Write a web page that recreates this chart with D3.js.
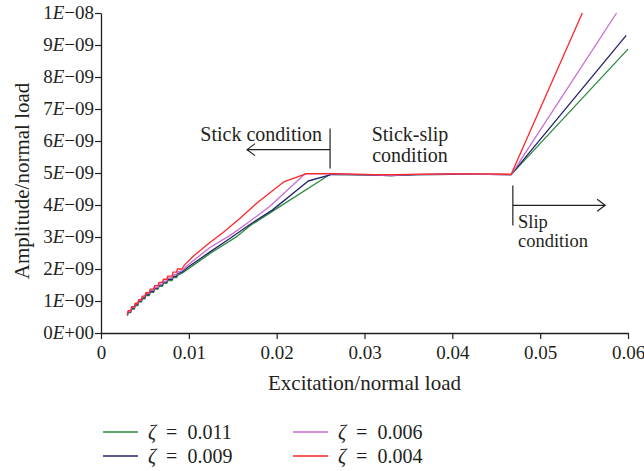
<!DOCTYPE html>
<html>
<head>
<meta charset="utf-8">
<script src="https://cdn.jsdelivr.net/npm/d3@7"></script>
<style>
  html, body { margin: 0; padding: 0; background: #fff; }
  svg text { font-family: "Liberation Serif", "DejaVu Serif", serif; fill: #231f20; }
</style>
</head>
<body>
<svg id="chart" width="644" height="471"></svg>
<script>
// Amplitude/normal load (units of 1E-09) versus excitation/normal load
const zetaLabels = ["0.011", "0.009", "0.006", "0.004"];
const seriesColors = ["#2b8a3e", "#23236e", "#c86bd0", "#ff2626"];

const green011 = [
  [0.0030,0.54],[0.0031,0.64],[0.0034,0.64],[0.0035,0.75],[0.0038,0.75],[0.0039,0.86],[0.0042,0.86],
  [0.0043,0.97],[0.0046,0.97],[0.0047,1.07],[0.0050,1.07],[0.0051,1.17],[0.0055,1.17],[0.0056,1.27],
  [0.0060,1.27],[0.0061,1.37],[0.0065,1.37],[0.0066,1.46],[0.0070,1.46],[0.0071,1.55],[0.0075,1.55],
  [0.0076,1.64],[0.0081,1.64],[0.0082,1.73],[0.0086,1.73],[0.0087,1.80],[0.0092,1.86],[0.0100,2.02],
  [0.0125,2.50],[0.0155,3.02],[0.0170,3.36],[0.0195,3.80],[0.0261,4.96],[0.0300,4.94],[0.0330,4.92],
  [0.0360,4.95],[0.0400,4.96],[0.0440,4.96],[0.0467,4.95],[0.0600,8.87]
];
const navy009 = [
  [0.0030,0.56],[0.0031,0.67],[0.0034,0.67],[0.0035,0.78],[0.0038,0.78],[0.0039,0.89],[0.0042,0.89],
  [0.0043,1.00],[0.0046,1.00],[0.0047,1.10],[0.0050,1.10],[0.0051,1.20],[0.0055,1.20],[0.0056,1.30],
  [0.0060,1.30],[0.0061,1.40],[0.0065,1.40],[0.0066,1.50],[0.0070,1.50],[0.0071,1.59],[0.0075,1.59],
  [0.0076,1.68],[0.0081,1.68],[0.0082,1.77],[0.0086,1.77],[0.0087,1.85],[0.0092,1.90],[0.0100,2.08],
  [0.0125,2.55],[0.0145,2.92],[0.0170,3.40],[0.0195,3.84],[0.0236,4.75],[0.0263,4.96],[0.0300,4.94],
  [0.0330,4.92],[0.0360,4.95],[0.0400,4.96],[0.0440,4.96],[0.0467,4.95],[0.0598,9.30]
];
const pink006 = [
  [0.0030,0.57],[0.0031,0.68],[0.0034,0.68],[0.0035,0.80],[0.0038,0.80],[0.0039,0.91],[0.0042,0.91],
  [0.0043,1.02],[0.0046,1.02],[0.0047,1.13],[0.0050,1.13],[0.0051,1.23],[0.0055,1.23],[0.0056,1.33],
  [0.0060,1.33],[0.0061,1.43],[0.0065,1.43],[0.0066,1.53],[0.0070,1.53],[0.0071,1.62],[0.0075,1.62],
  [0.0076,1.72],[0.0081,1.72],[0.0082,1.82],[0.0086,1.82],[0.0087,1.90],[0.0092,1.95],[0.0100,2.15],
  [0.0124,2.67],[0.0147,3.05],[0.0166,3.42],[0.0192,3.95],[0.0232,4.97],[0.0265,4.97],[0.0300,4.95],
  [0.0330,4.93],[0.0360,4.96],[0.0400,4.97],[0.0440,4.96],[0.0467,4.95],[0.0587,10.0]
];
const red004 = [
  [0.0030,0.58],[0.0031,0.70],[0.0034,0.70],[0.0035,0.82],[0.0038,0.82],[0.0039,0.93],[0.0042,0.93],
  [0.0043,1.04],[0.0046,1.04],[0.0047,1.15],[0.0050,1.15],[0.0051,1.26],[0.0055,1.26],[0.0056,1.37],
  [0.0060,1.37],[0.0061,1.48],[0.0065,1.48],[0.0066,1.58],[0.0070,1.58],[0.0071,1.68],[0.0075,1.68],
  [0.0076,1.78],[0.0081,1.78],[0.0082,1.90],[0.0086,1.90],[0.0087,2.00],[0.0092,2.00],[0.0095,2.12],
  [0.0105,2.40],[0.0124,2.83],[0.0139,3.14],[0.0158,3.58],[0.0180,4.12],[0.0208,4.72],[0.0234,4.98],
  [0.0265,4.98],[0.0300,4.96],[0.0320,4.94],[0.0350,4.96],[0.0400,4.97],[0.0440,4.97],[0.0467,4.96],
  [0.0548,10.0]
];
const allSeries = [green011, navy009, pink006, red004];

const xTicks = [0, 0.01, 0.02, 0.03, 0.04, 0.05, 0.06];
const xTickLabels = ["0", "0.01", "0.02", "0.03", "0.04", "0.05", "0.06"];
const yTicks = [0, 1, 2, 3, 4, 5, 6, 7, 8, 9, 10];
const yTickMantissa = ["0", "1", "2", "3", "4", "5", "6", "7", "8", "9", "1"];
const yTickExponent = ["+00", "\u221209", "\u221209", "\u221209", "\u221209", "\u221209",
                       "\u221209", "\u221209", "\u221209", "\u221209", "\u221208"];

const svg = d3.select("#chart");
const x = d3.scaleLinear().domain([0, 0.06]).range([101, 628]);
const y = d3.scaleLinear().domain([0, 10]).range([333, 13]);

// axes
const xAxis = svg.append("g").attr("transform", `translate(0,${y(0)})`)
  .call(d3.axisBottom(x).tickValues(xTicks).tickSize(6).tickSizeOuter(0)
    .tickFormat((d, i) => xTickLabels[i]));
const yAxis = svg.append("g").attr("transform", `translate(${x(0)},0)`)
  .call(d3.axisLeft(y).tickValues(yTicks).tickSize(6).tickSizeOuter(0).tickFormat(""));

[xAxis, yAxis].forEach(g => {
  g.select(".domain").attr("stroke", "#231f20").attr("stroke-width", 1.3);
  g.selectAll(".tick line").attr("stroke", "#231f20").attr("stroke-width", 1.2);
});
xAxis.selectAll(".tick text")
  .attr("y", 13).attr("font-size", 19)
  .style("font-family", "'Liberation Serif', serif").attr("fill", "#231f20");

// y tick labels with italic E
const yl = svg.append("g");
yTicks.forEach((v, i) => {
  const t = yl.append("text")
    .attr("x", x(0) - 7).attr("y", y(v)).attr("dy", "0.33em")
    .attr("text-anchor", "end").attr("font-size", 19);
  t.append("tspan").text(yTickMantissa[i]);
  t.append("tspan").attr("font-style", "italic").text("E");
  t.append("tspan").text(yTickExponent[i]);
});

// axis titles
svg.append("text").attr("x", (x(0) + x(0.06)) / 2).attr("y", 390)
  .attr("text-anchor", "middle").attr("font-size", 21).text("Excitation/normal load");
svg.append("text")
  .attr("transform", `translate(29,${(y(0) + y(10)) / 2 + 8}) rotate(-90)`)
  .attr("text-anchor", "middle").attr("font-size", 21).text("Amplitude/normal load");

// series lines
const line = d3.line().x(d => x(d[0])).y(d => y(d[1]));
allSeries.forEach((s, i) => {
  svg.append("path").datum(s).attr("d", line)
    .attr("fill", "none").attr("stroke", seriesColors[i])
    .attr("stroke-width", 1.3).attr("stroke-linejoin", "round");
});

// regime annotations
const ann = svg.append("g").attr("stroke", "#231f20").attr("stroke-width", 1.2).attr("fill", "none");
// stick boundary and leftward arrow
ann.append("line").attr("x1", x(0.02608)).attr("x2", x(0.02608)).attr("y1", y(6.39)).attr("y2", y(5.14));
ann.append("line").attr("x1", x(0.02608)).attr("x2", x(0.01663)).attr("y1", y(5.73)).attr("y2", y(5.73));
ann.append("polyline").attr("points",
  `${x(0.01663) + 8},${y(5.73) - 6} ${x(0.01663)},${y(5.73)} ${x(0.01663) + 8},${y(5.73) + 6}`);
// slip boundary and rightward arrow
ann.append("line").attr("x1", x(0.04689)).attr("x2", x(0.04689)).attr("y1", y(4.61)).attr("y2", y(3.36));
ann.append("line").attr("x1", x(0.04689)).attr("x2", x(0.0574)).attr("y1", y(3.99)).attr("y2", y(3.99));
ann.append("polyline").attr("points",
  `${x(0.0574) - 8},${y(3.99) - 6} ${x(0.0574)},${y(3.99)} ${x(0.0574) - 8},${y(3.99) + 6}`);

const lab = svg.append("g").attr("font-size", 20);
lab.append("text").attr("x", 322).attr("y", 141).attr("text-anchor", "end").text("Stick condition");
lab.append("text").attr("x", 410).attr("y", 141).attr("text-anchor", "middle").text("Stick-slip");
lab.append("text").attr("x", 410).attr("y", 162).attr("text-anchor", "middle").text("condition");
lab.append("text").attr("x", 518).attr("y", 228).attr("font-size", 18.5).text("Slip");
lab.append("text").attr("x", 518).attr("y", 247).attr("font-size", 18.5).text("condition");

// legend, two columns
const legendPos = [[103, 432], [103, 456], [293, 432], [293, 456]];
allSeries.forEach((s, i) => {
  const [lx, ly] = legendPos[i];
  svg.append("line").attr("x1", lx).attr("x2", lx + 35).attr("y1", ly).attr("y2", ly)
    .attr("stroke", seriesColors[i]).attr("stroke-width", 1.3);
  const t = svg.append("text").attr("x", lx + 45).attr("y", ly).attr("dy", "0.33em").attr("font-size", 20);
  t.append("tspan").attr("font-style", "italic").text("\u03b6");
  t.append("tspan").attr("xml:space", "preserve").text("\u2002=\u2002" + zetaLabels[i]);
});
</script>
</body>
</html>
